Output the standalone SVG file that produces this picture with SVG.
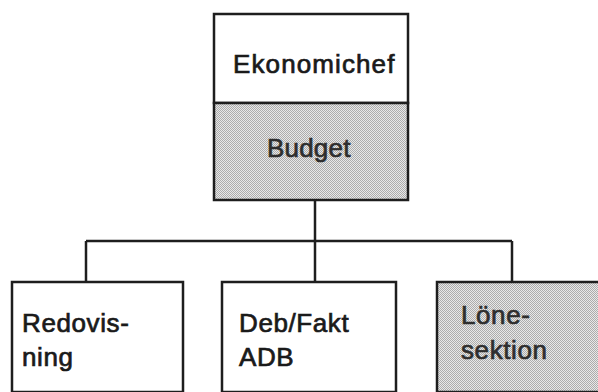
<svg xmlns="http://www.w3.org/2000/svg" width="598" height="392" viewBox="0 0 598 392">
  <defs>
    <!-- fine halftone stipple used for shaded boxes -->
    <pattern id="stipple" width="2" height="2" patternUnits="userSpaceOnUse">
      <rect width="2" height="2" fill="#e8e8e8"/>
      <rect x="0" y="0" width="1" height="1" fill="#acacac"/>
      <rect x="1" y="1" width="1" height="1" fill="#acacac"/>
    </pattern>
    <style>
      .box { stroke: #1e1e1e; stroke-width: 2.5; }
      .plain { fill: #ffffff; }
      .shaded { fill: url(#stipple); }
      .wire { stroke: #1e1e1e; stroke-width: 2.5; fill: none; }
      .lbl { font-family: "Liberation Sans", Arial, sans-serif; font-weight: normal; font-size: 26px; fill: #1a1a1a; stroke: #1a1a1a; stroke-width: 0.7; letter-spacing: 0.6px; }
      .dim { fill: #2e2e2e; stroke: #2e2e2e; }
    </style>
  </defs>
  <rect width="598" height="392" fill="#ffffff"/>

  <g id="connectors">
    <path class="wire" d="M315 200 V241"/>
    <path class="wire" d="M86 241 H512"/>
    <path class="wire" d="M86 241 V282"/>
    <path class="wire" d="M315 241 V282"/>
    <path class="wire" d="M512 241 V282"/>
    <path class="wire" d="M122 386 V392" stroke-width="1.5"/>
  </g>

  <g id="ekonomichef">
    <rect class="box plain" x="214" y="14" width="194" height="89"/>
    <text class="lbl" x="233" y="73" textLength="162">Ekonomichef</text>
  </g>

  <g id="budget">
    <rect class="box shaded" x="214" y="103" width="194" height="97"/>
    <text class="lbl dim" x="267" y="157" textLength="84">Budget</text>
  </g>

  <g id="redovisning">
    <rect class="box plain" x="12" y="282" width="171" height="110"/>
    <text class="lbl" x="22" y="332">Redovis-</text>
    <text class="lbl" x="22" y="366">ning</text>
  </g>

  <g id="debfakt">
    <rect class="box plain" x="222" y="282" width="174" height="110"/>
    <text class="lbl" x="239" y="332">Deb/Fakt</text>
    <text class="lbl" x="239" y="366">ADB</text>
  </g>

  <g id="lonesektion">
    <rect class="box shaded" x="437" y="282" width="170" height="110"/>
    <text class="lbl dim" x="461" y="324">Löne-</text>
    <text class="lbl dim" x="461" y="359">sektion</text>
  </g>
</svg>
